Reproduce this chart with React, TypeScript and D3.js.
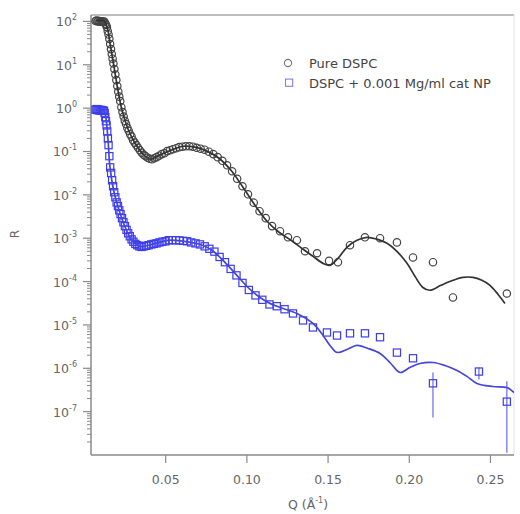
import React from 'react';
import * as d3 from 'd3';

const width = 520;
const height = 514;
const margin = { top: 15, right: 6, bottom: 59, left: 91 };
const font = 'DejaVu Sans, Verdana, sans-serif';

// Pure DSPC, measured points
const qPure = [
  0.0068, 0.0074, 0.008, 0.0086, 0.0092, 0.0098, 0.0104, 0.011, 0.0116, 0.0122, 0.0128, 0.0133,
  0.0138, 0.0143, 0.0148, 0.0153, 0.0158, 0.0163, 0.0168, 0.0173, 0.0178, 0.0184, 0.019, 0.0196,
  0.0202, 0.0208, 0.0214, 0.022, 0.0227, 0.0234, 0.0241, 0.0248, 0.0256, 0.0264, 0.0272, 0.0281,
  0.029, 0.0299, 0.0309, 0.0319, 0.033, 0.0341, 0.0352, 0.0364, 0.0376, 0.0389, 0.0402, 0.0416,
  0.043, 0.0445, 0.046, 0.0476, 0.0492, 0.0509, 0.0527, 0.0545, 0.0564, 0.0583, 0.0603, 0.0624,
  0.0646, 0.0668, 0.0691, 0.0715, 0.074, 0.0766, 0.0793, 0.082, 0.0849, 0.0878, 0.0909, 0.094,
  0.0973, 0.1007, 0.1042, 0.1078, 0.1116, 0.1155, 0.1204, 0.1253, 0.1308, 0.1358, 0.1432, 0.1506,
  0.1561, 0.1635, 0.1727, 0.182, 0.1924, 0.2023, 0.2146, 0.2269, 0.2601,
];
const rPure = [
  102, 105, 100, 103, 99, 101, 98, 100, 97, 99, 89, 83,
  74, 60, 50, 39.6, 30, 23, 17.7, 13.8, 10.7, 7.96, 5.94, 4.43,
  3.22, 2.4, 1.84, 1.45, 1.05, 0.81, 0.64, 0.51, 0.43, 0.35, 0.3, 0.25,
  0.22, 0.182, 0.16, 0.14, 0.122, 0.107, 0.094, 0.084, 0.078, 0.072, 0.068, 0.066,
  0.07, 0.074, 0.08, 0.087, 0.091, 0.102, 0.107, 0.113, 0.119, 0.126, 0.129, 0.132,
  0.132, 0.129, 0.122, 0.116, 0.11, 0.099, 0.087, 0.074, 0.061, 0.048, 0.035, 0.0235,
  0.0158, 0.0103, 0.0066, 0.0042, 0.0029, 0.0019, 0.00145, 0.00105, 0.0009, 0.0005, 0.00045, 0.0003,
  0.00028, 0.00069, 0.00105, 0.001, 0.0008, 0.00036, 0.00028, 0.000043, 0.000053,
];

// Pure DSPC, model fit
const qPureFit = [
  0.0071, 0.012, 0.0139, 0.0157, 0.0182, 0.0206, 0.0231, 0.0268, 0.0311, 0.036, 0.0409, 0.0459,
  0.0533, 0.0607, 0.068, 0.0754, 0.0828, 0.0902, 0.0976, 0.105, 0.1124, 0.1198, 0.1272, 0.1346,
  0.1407, 0.1469, 0.1512, 0.1561, 0.1616, 0.1678, 0.174, 0.1801, 0.1863, 0.1924, 0.1986, 0.2035,
  0.2084, 0.2127, 0.2195, 0.2269, 0.2331, 0.2392, 0.2447, 0.2497, 0.2546, 0.2589,
];
const rPureFit = [
  104, 102, 74, 31.7, 8.8, 2.6, 0.9, 0.33, 0.156, 0.087, 0.066, 0.082,
  0.107, 0.132, 0.126, 0.102, 0.07, 0.037, 0.015, 0.00575, 0.00246, 0.00137, 0.000895, 0.000555,
  0.000382, 0.000263, 0.000237, 0.000343, 0.000617, 0.000895, 0.00105, 0.00095, 0.000762, 0.000498, 0.000263, 0.000132,
  0.000073, 0.000063, 0.000082, 0.000107, 0.000125, 0.000125, 0.000107, 0.000082, 0.000051, 0.0000314,
];

// DSPC + cat NP, measured points
const qCat = [
  0.0068, 0.0074, 0.008, 0.0086, 0.0092, 0.0098, 0.0104, 0.011, 0.0116, 0.012, 0.0124, 0.0128,
  0.0132, 0.0136, 0.014, 0.0144, 0.0148, 0.0153, 0.0158, 0.0164, 0.017, 0.0176, 0.0183, 0.019,
  0.0198, 0.0206, 0.0214, 0.0222, 0.0231, 0.024, 0.0249, 0.0259, 0.0269, 0.0279, 0.029, 0.0301,
  0.0313, 0.0325, 0.0338, 0.0351, 0.0365, 0.038, 0.0395, 0.0411, 0.0427, 0.0444, 0.0462, 0.048,
  0.0499, 0.0519, 0.054, 0.0562, 0.0584, 0.0608, 0.0632, 0.0657, 0.0684, 0.0711, 0.074, 0.0769,
  0.08, 0.0832, 0.0865, 0.09, 0.0936, 0.0973, 0.1012, 0.1053, 0.1095, 0.1139, 0.1184, 0.1232,
  0.1284, 0.1346, 0.1407, 0.1493, 0.1555, 0.1635, 0.1727, 0.182, 0.1924, 0.2023, 0.2146, 0.2429, 0.2601,
];
const rCat = [
  0.92, 0.95, 0.9, 0.93, 0.88, 0.91, 0.89, 0.9, 0.87, 0.86, 0.77, 0.62,
  0.5, 0.4, 0.29, 0.2, 0.14, 0.078, 0.043, 0.032, 0.0217, 0.0158, 0.0115, 0.0088,
  0.0067, 0.0055, 0.0044, 0.0036, 0.0029, 0.00233, 0.0019, 0.00156, 0.0013, 0.00111, 0.00094, 0.00083,
  0.00074, 0.00069, 0.00065, 0.00063, 0.00065, 0.00067, 0.00069, 0.00072, 0.00074, 0.00076, 0.0008, 0.00083,
  0.00085, 0.0009, 0.0009, 0.0009, 0.00089, 0.00087, 0.00085, 0.0008, 0.00076, 0.00072, 0.00065, 0.00057,
  0.00049, 0.00037, 0.00028, 0.000196, 0.000139, 0.000093, 0.000064, 0.000048, 0.000038, 0.0000297, 0.000027, 0.000023,
  0.0000184, 0.0000127, 0.00000875, 0.0000067, 0.0000057, 0.0000064, 0.0000064, 0.0000052, 0.0000023, 0.0000017, 0.00000045, 0.00000084, 0.00000017,
];

// DSPC + cat NP, error bars (only the visible ones)
const qCatErr = [0.2146, 0.2429, 0.2601];
const rCatErrLow = [0.000000073, 0.00000055, 0.0000000113];
const rCatErrHigh = [0.0000008, 0.00000104, 0.0000005];

// DSPC + cat NP, model fit
const qCatFit = [
  0.0071, 0.012, 0.0132, 0.0145, 0.0157, 0.0182, 0.0219, 0.0256, 0.0292, 0.0342, 0.0416, 0.0514,
  0.0613, 0.0711, 0.0785, 0.0859, 0.0933, 0.1007, 0.1081, 0.1142, 0.1204, 0.1308, 0.1407, 0.1469,
  0.1512, 0.1555, 0.1616, 0.1678, 0.1746, 0.182, 0.1881, 0.1943, 0.2004, 0.2066, 0.2146, 0.222,
  0.2294, 0.2355, 0.2417, 0.2515, 0.2601, 0.2638, 0.2681,
];
const rCatFit = [
  0.9, 0.85, 0.59, 0.18, 0.043, 0.0115, 0.00376, 0.00161, 0.000895, 0.00065, 0.000723, 0.000895,
  0.000848, 0.000723, 0.000526, 0.000293, 0.000147, 0.000073, 0.000043, 0.0000314, 0.0000253, 0.0000184, 0.0000108, 0.00000573,
  0.00000336, 0.00000232, 0.00000272, 0.00000336, 0.00000287, 0.0000022, 0.00000136, 0.0000008, 0.00000104, 0.00000129, 0.00000136, 0.00000116,
  0.00000089, 0.00000065, 0.000000446, 0.00000038, 0.00000036, 0.000000291, 0.000000212,
];

const xTicks = [0.05, 0.1, 0.15, 0.2, 0.25];
const yExponents = [-7, -6, -5, -4, -3, -2, -1, 0, 1, 2];
const legendLabels = ['Pure DSPC', 'DSPC + 0.001 Mg/ml cat NP'];

const pureColor = '#333333';
const pureMarker = '#444444';
const catColor = '#4545dc';
const catMarker = '#3c3cf0';

export default function App() {
  const x = d3.scaleLinear().domain([0.004, 0.2645]).range([margin.left, width - margin.right]);
  const y = d3.scaleLog().domain([1e-8, 140.6]).range([height - margin.bottom, margin.top]);
  const x0 = margin.left;
  const x1 = width - margin.right;
  const y0 = height - margin.bottom;
  const y1 = margin.top;

  const line = d3
    .line<[number, number]>()
    .x((d) => x(d[0]))
    .y((d) => y(d[1]))
    .curve(d3.curveCatmullRom.alpha(0.5));

  const pureFit = qPureFit.map((q, i) => [q, rPureFit[i]] as [number, number]);
  const catFit = qCatFit.map((q, i) => [q, rCatFit[i]] as [number, number]);

  // minor ticks on the log axis
  const minor: number[] = [];
  for (let e = -8; e <= 2; e++) {
    for (let k = 2; k <= 9; k++) {
      const v = k * Math.pow(10, e);
      if (v <= 140.6) minor.push(v);
    }
  }

  return (
    <svg width={width} height={height} style={{ position: 'absolute', left: 0, top: 0, background: '#fff' }}>
      <defs>
        <clipPath id="plot">
          <rect x={x0} y={y1} width={x1 - x0} height={y0 - y1} />
        </clipPath>
      </defs>

      {/* frame */}
      <line x1={x0} x2={x1} y1={y1} y2={y1} stroke="#a8a8a8" strokeWidth={1.5} />
      <line x1={x1} x2={x1} y1={y1} y2={y0} stroke="#e4e4e4" strokeWidth={1} />
      <line x1={x0} x2={x0} y1={y1} y2={y0} stroke="#8a8a8a" strokeWidth={1.5} />
      <line x1={x0} x2={x1} y1={y0} y2={y0} stroke="#8a8a8a" strokeWidth={1.5} />

      {/* y axis ticks */}
      {minor.map((v) => (
        <line key={'m' + v} x1={x0 - 4} x2={x0} y1={y(v)} y2={y(v)} stroke="#8a8a8a" strokeWidth={1} />
      ))}
      {yExponents.map((e) => (
        <g key={'y' + e}>
          <line x1={x0 - 8} x2={x0} y1={y(Math.pow(10, e))} y2={y(Math.pow(10, e))} stroke="#8a8a8a" strokeWidth={1.2} />
          <text x={77} y={y(Math.pow(10, e)) + 5} textAnchor="end" fontFamily={font} fontSize={12.5} fill="#666">
            10<tspan dy={-6} fontSize={8}>{e}</tspan>
          </text>
        </g>
      ))}

      {/* x axis ticks */}
      {xTicks.map((t) => (
        <g key={'x' + t}>
          <line x1={x(t)} x2={x(t)} y1={y0} y2={y0 + 8} stroke="#8a8a8a" strokeWidth={1.2} />
          <text x={x(t)} y={y0 + 29} textAnchor="middle" fontFamily={font} fontSize={12.5} fill="#666">
            {t.toFixed(2)}
          </text>
        </g>
      ))}

      {/* axis titles */}
      <text x={308} y={509} textAnchor="middle" fontFamily={font} fontSize={12.5} fill="#666">
        Q (Å<tspan dy={-6} fontSize={8}>-1</tspan><tspan dy={6}>)</tspan>
      </text>
      <text transform="translate(19,234) rotate(-90)" textAnchor="middle" fontFamily={font} fontSize={12} fill="#666">
        R
      </text>

      <g clipPath="url(#plot)">
        {/* pure DSPC */}
        {qPure.map((q, i) => (
          <circle key={'p' + i} cx={x(q)} cy={y(rPure[i])} r={3.7} fill="none" stroke={pureMarker} strokeWidth={1.2} />
        ))}
        <path d={line(pureFit) || ''} fill="none" stroke={pureColor} strokeWidth={1.7} />

        {/* DSPC + cat NP */}
        {qCatErr.map((q, i) => (
          <line key={'e' + i} x1={x(q)} x2={x(q)} y1={y(rCatErrLow[i])} y2={y(rCatErrHigh[i])} stroke="#6a6ae6" strokeWidth={1.2} />
        ))}
        {qCat.map((q, i) => (
          <rect key={'c' + i} x={x(q) - 3.6} y={y(rCat[i]) - 3.6} width={7.2} height={7.2} fill="none" stroke={catMarker} strokeWidth={1.2} />
        ))}
        <path d={line(catFit) || ''} fill="none" stroke={catColor} strokeWidth={1.7} />
      </g>

      {/* legend */}
      <circle cx={288} cy={63} r={3.6} fill="none" stroke="#777" strokeWidth={1.1} />
      <text x={309} y={67.5} fontFamily={font} fontSize={13} fill="#444">{legendLabels[0]}</text>
      <rect x={285.5} y={79.1} width={7.2} height={7.2} fill="none" stroke="#8080e8" strokeWidth={1.1} />
      <text x={309} y={87.5} fontFamily={font} fontSize={13} fill="#444">{legendLabels[1]}</text>
    </svg>
  );
}
